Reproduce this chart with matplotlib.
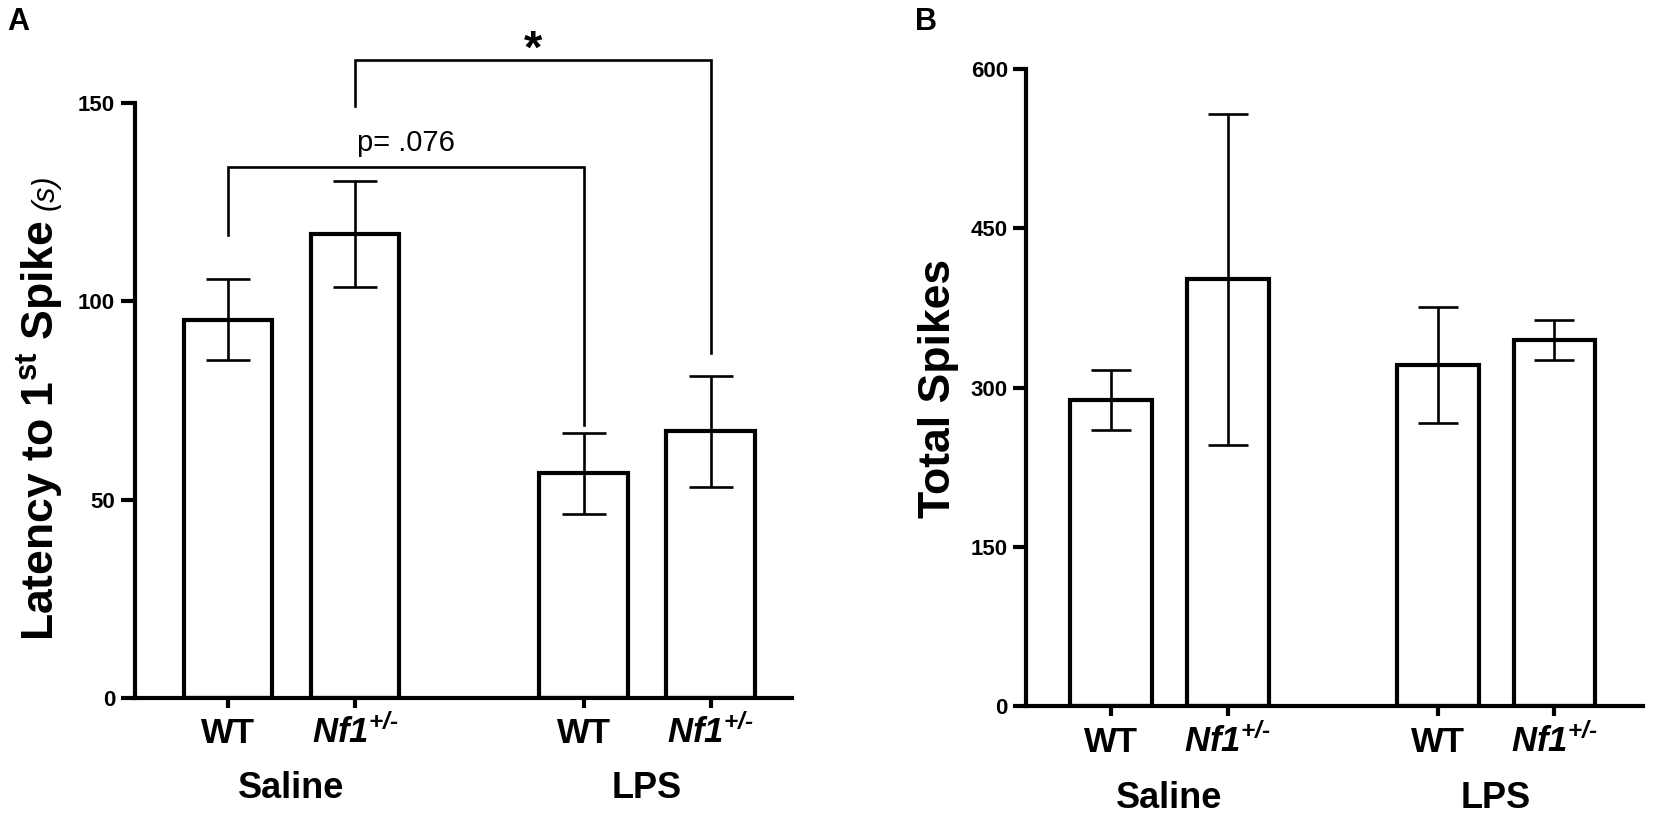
import matplotlib
matplotlib.use('Agg')
import matplotlib.pyplot as plt
import matplotlib.transforms as mtransforms

plt.rcParams['font.family'] = ['Liberation Sans', 'DejaVu Sans']
plt.rcParams['mathtext.fontset'] = 'custom'
# rm is used for the digits of Nf1, so make it bold italic too
plt.rcParams['mathtext.rm'] = 'Liberation Sans:bold:italic'
plt.rcParams['mathtext.it'] = 'Liberation Sans:bold:italic'
plt.rcParams['mathtext.bf'] = 'Liberation Sans:bold'

# data
groups = ['Saline', 'LPS']
genotypes = ['WT', r'$\mathit{Nf1}^{\mathit{+/}\text{-}}$']
x_pos = [0, 1, 2.80, 3.80]

latency_mean = [95.4, 117.0, 56.6, 67.2]
latency_sem = [10.3, 13.4, 10.1, 14.0]

spikes_mean = [288, 402, 321, 345]
spikes_sem = [28.5, 156, 54.5, 19]

# comparison brackets on panel A: (left bar, right bar, bracket level, left leg end, right leg end, label)
brackets = [
    (0, 2, 133.8, 116.8, 68.9, 'p= .076'),
    (1, 3, 160.9, 149.2, 87.0, '*'),
]

W, H = 1653, 821
fig = plt.figure(figsize=(W / 100, H / 100), dpi=100)


def px(x, y):
    # pixel (from top-left) -> figure fraction
    return x / W, 1 - y / H


def axes_box(x0, y0, x1, y1):
    return [x0 / W, 1 - y1 / H, (x1 - x0) / W, (y1 - y0) / H]


def draw_bars(ax, means, sems, capsize):
    ax.bar(x_pos, means, width=0.70, color='white', edgecolor='black',
           linewidth=3.0, zorder=2)
    ax.errorbar(x_pos, means, yerr=sems, fmt='none', ecolor='black',
                elinewidth=1.9, capsize=capsize, capthick=1.9, zorder=3)


def style_axes(ax, ylim, yticks, xlim, ytick_len, ytick_pad, xtick_pad):
    ax.set_xlim(*xlim)
    ax.set_ylim(*ylim)
    ax.set_yticks(yticks)
    for s in ['top', 'right']:
        ax.spines[s].set_visible(False)
    for s in ['left', 'bottom']:
        ax.spines[s].set_linewidth(3.0)
    ax.tick_params(axis='y', length=ytick_len, width=3.0, pad=ytick_pad,
                   labelsize=16)
    ax.tick_params(axis='x', length=7.2, width=3.0, pad=xtick_pad)
    for lab in ax.get_yticklabels():
        lab.set_fontweight('bold')
    ax.set_xticks(x_pos)
    ax.set_xticklabels(genotypes * 2, fontsize=25, fontweight='bold', va='baseline')


def group_labels(ax, yfrac):
    trans = mtransforms.blended_transform_factory(ax.transData, ax.transAxes)
    centers = [(x_pos[0] + x_pos[1]) / 2, (x_pos[2] + x_pos[3]) / 2]
    for c, g in zip(centers, groups):
        ax.text(c, yfrac, g, transform=trans, ha='center', va='center',
                fontsize=26, fontweight='bold', clip_on=False)


# panel A
a_top, a_bot = 103, 698
axA = fig.add_axes(axes_box(135, a_top, 792, a_bot))
draw_bars(axA, latency_mean, latency_sem, capsize=16)
style_axes(axA, (0, 150), [0, 50, 100, 150], (-0.732, 4.44),
           ytick_len=10, ytick_pad=4.3, xtick_pad=25.5)
group_labels(axA, -(788 - a_bot) / (a_bot - a_top))

for i, j, level, left_end, right_end, label in brackets:
    xl, xr = x_pos[i], x_pos[j]
    axA.plot([xl, xl, xr, xr], [left_end, level, level, right_end], color='black',
             linewidth=1.9, clip_on=False, zorder=4, solid_joinstyle='miter')
    if label == '*':
        axA.text((xl + xr) / 2, level - 0.8, label, ha='center', va='baseline',
                 fontsize=34, fontweight='bold', clip_on=False)
    else:
        axA.text((xl + xr) / 2, level + 4.0, label, ha='center', va='baseline',
                 fontsize=21, clip_on=False)

# y label A: bold text plus smaller italic unit
fig.canvas.draw()
r = fig.canvas.get_renderer()
main = fig.text(0, 0, r'Latency to 1$^{\mathbf{st}}$ Spike', rotation=90,
                rotation_mode='anchor', ha='left', va='baseline',
                fontsize=32, fontweight='bold')
unit = fig.text(0, 0, '(s)', rotation=90, rotation_mode='anchor', ha='left',
                va='baseline', fontsize=22, style='italic')
h_main = main.get_window_extent(r).height
h_unit = unit.get_window_extent(r).height
gap = 10
total = h_main + gap + h_unit
y_start = (H - 408) - total / 2
base_x = 54
main.set_position((base_x / W, y_start / H))
unit.set_position((base_x / W, (y_start + h_main + gap) / H))

# panel B
b_top, b_bot = 69, 706
axB = fig.add_axes(axes_box(1026, b_top, 1643, b_bot))
draw_bars(axB, spikes_mean, spikes_sem, capsize=14.3)
style_axes(axB, (0, 600), [0, 150, 300, 450, 600], (-0.729, 4.56),
           ytick_len=9.4, ytick_pad=3.6, xtick_pad=26)
group_labels(axB, -(798.5 - b_bot) / (b_bot - b_top))
fig.text(*px(950, 388), 'Total Spikes', rotation=90, rotation_mode='anchor',
         ha='center', va='baseline', fontsize=32, fontweight='bold')

# panel letters
fig.text(*px(7, 30), 'A', fontsize=22, fontweight='bold', va='baseline')
fig.text(*px(915, 30), 'B', fontsize=22, fontweight='bold', va='baseline')

fig.savefig('out.png', dpi=100)
